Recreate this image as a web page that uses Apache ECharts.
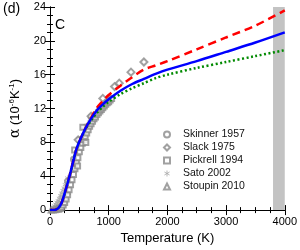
<!DOCTYPE html>
<html><head><meta charset="utf-8">
<script src="https://cdn.jsdelivr.net/npm/echarts@6/dist/echarts.min.js"></script>
<style>html,body{margin:0;padding:0;background:#fff}#c{width:300px;height:250px}</style>
</head><body><div id="c"></div>
<script>
var modelT = [0,50,100,150,200,250,300,350,400,450,500,600,700,800,900,1000,1200,1400,1600,1800,2000,2500,3000,3500,4000];
var blueVals = [0,0,0.05,0.3,0.9,2.0,3.2,4.5,5.9,7.2,8.1,9.6,10.8,11.8,12.5,13.1,14.1,14.9,15.5,16.1,16.6,17.6,18.7,19.8,21.0];
var redVals = [0,0,0.05,0.3,0.9,2.0,3.2,4.5,5.9,7.2,8.1,9.6,10.9,12.1,12.9,13.6,14.7,15.7,16.6,17.1,17.6,19.0,20.4,21.8,23.6];
var greenVals = [0,0,0.05,0.3,0.9,2.0,3.2,4.5,5.9,7.2,8.1,9.5,10.6,11.5,12.2,12.8,13.7,14.4,15.0,15.6,16.0,16.8,17.5,18.2,18.9];

var skinner = [[300,3.4],[400,6.0],[500,8.3],[600,9.8],[700,11.0]];
var slack = [[480,8.3],[700,11.1],[900,13.2],[1100,14.6],[1180,15.0],[1380,16.3],[1600,17.5]];
var pickrell = [[150,0.1],[175,0.2],[200,0.35],[225,0.6],[250,0.9],[275,1.3],[300,1.8],[325,2.4],[350,3.0],[375,3.6],[400,4.2],[425,4.9],[450,5.6],[475,6.2],[500,6.9],[525,7.4],[550,7.9],[575,8.3],[600,8.7],[625,9.1],[650,9.5],[675,9.9],[700,10.2],[725,10.5],[750,10.8],[775,11.0],[800,11.3],[825,11.5],[850,11.7],[875,11.9],[900,12.1],[925,12.3],[950,12.5],[975,12.7],[1000,12.8],[1025,13.0],[1050,13.2],[420,7.1],[470,5.2],[560,9.8],[610,8.0]];
var sato = [[40,0.1],[60,0.3],[80,0.5],[100,0.7],[120,0.9],[140,1.1],[160,1.4],[180,1.7],[200,2.0],[220,2.3],[240,2.6],[260,3.0],[280,3.4],[300,3.8],[90,0.3],[130,0.6],[170,1.0],[210,1.5]];
var stoupin = [[20,0],[50,0],[80,0.05],[110,0.1],[140,0.2],[170,0.4],[200,0.7],[230,1.1],[260,1.6],[290,2.2]];

var xTicks = [0,1000,2000,3000,4000];
var yTicks = [0,4,8,12,16,20,24];

function pairs(xs, ys){ return xs.map(function(x,i){return [x, ys[i]];}); }

var FONT = 'Liberation Sans';
var gray = '#8a8a8a';
var asterisk = 'path://M5,0L5,10M0.7,2.5L9.3,7.5M9.3,2.5L0.7,7.5';

var axisCommon = {
  axisLine:{show:true,lineStyle:{color:'#000',width:1}},
  axisTick:{show:true,inside:true,length:5,lineStyle:{color:'#000',width:1}},
  minorTick:{show:true,splitNumber:4,length:3,lineStyle:{color:'#000',width:1}},
  splitLine:{show:false}
};

var chart = echarts.init(document.getElementById('c'), null, {renderer:'canvas'});
chart.setOption({
  animation:false,
  textStyle:{fontFamily:FONT},
  grid:{left:48,right:15,top:7,bottom:38,containLabel:false},
  xAxis:[
    Object.assign({type:'value',min:0,max:4000,interval:1000,position:'bottom',
      name:'Temperature (K)',nameLocation:'middle',nameGap:19,
      nameTextStyle:{fontSize:13,color:'#000',fontFamily:FONT},
      axisLabel:{fontSize:11,color:'#000',margin:6,fontFamily:FONT,
        formatter:function(v){return xTicks.indexOf(v)>=0?String(v):'';}}}, axisCommon),
    Object.assign({type:'value',min:0,max:4000,interval:1000,position:'top',axisLabel:{show:false}}, axisCommon)
  ],
  yAxis:[
    Object.assign({type:'value',min:0,max:24,interval:4,position:'left',
      name:'{a|α} (10{s|-6}K{s|-1})',nameLocation:'middle',nameGap:28,nameRotate:90,
      nameTextStyle:{fontSize:13,color:'#000',fontFamily:FONT,
        rich:{a:{fontSize:14,fontFamily:'DejaVu Serif',color:'#000'},s:{fontSize:8,verticalAlign:'top',lineHeight:10,color:'#000',fontFamily:FONT}}},
      axisLabel:{fontSize:11,color:'#000',margin:4,fontFamily:FONT,
        formatter:function(v){return yTicks.indexOf(v)>=0?String(v):'';}}}, axisCommon),
    Object.assign({type:'value',min:0,max:24,interval:4,position:'right',axisLabel:{show:false}}, axisCommon)
  ],
  legend:{
    orient:'vertical',left:158,top:124,itemWidth:6,itemHeight:6,itemGap:2,
    itemStyle:{borderWidth:1},
    textStyle:{fontSize:10.5,lineHeight:11,color:'#111',fontFamily:FONT,padding:[0,0,0,8]},
    data:['Skinner 1957','Slack 1975','Pickrell 1994','Sato 2002','Stoupin 2010']
  },
  graphic:[
    {type:'text',left:3,top:2,style:{text:'(d)',fontSize:14,fontFamily:FONT,fill:'#000'}},
    {type:'text',left:55,top:18,style:{text:'C',fontSize:14,fontFamily:FONT,fill:'#000'}}
  ],
  series:[
    {type:'line',name:'band',data:[],silent:true,z:1,
      markArea:{silent:true,itemStyle:{color:'#c3c3c3'},data:[[{xAxis:3800},{xAxis:4000}]]}},
    {type:'scatter',name:'Sato 2002',data:sato,symbol:asterisk,symbolSize:5,z:2,
      itemStyle:{color:'rgba(0,0,0,0)',borderColor:'#a8a8a8',borderWidth:1}},
    {type:'scatter',name:'Stoupin 2010',data:stoupin,symbol:'emptyTriangle',symbolSize:5,z:2,
      itemStyle:{color:gray,borderColor:gray,borderWidth:1}},
    {type:'scatter',name:'Skinner 1957',data:skinner,symbol:'emptyCircle',symbolSize:5,z:2,
      itemStyle:{color:gray,borderColor:gray,borderWidth:1}},
    {type:'scatter',name:'Pickrell 1994',data:pickrell,symbol:'emptyRect',symbolSize:5,z:2,
      itemStyle:{color:gray,borderColor:gray,borderWidth:1}},
    {type:'scatter',name:'Slack 1975',data:slack,symbol:'emptyDiamond',symbolSize:7,z:2,
      itemStyle:{color:gray,borderColor:gray,borderWidth:1}},
    {type:'line',name:'green',data:pairs(modelT,greenVals),smooth:0.3,showSymbol:false,z:3,
      lineStyle:{color:'#008a00',width:2.5,type:[2,2.5]}},
    {type:'line',name:'red',data:pairs(modelT,redVals),smooth:0.3,showSymbol:false,z:3,
      lineStyle:{color:'#ff0000',width:2.5,type:[8,5]}},
    {type:'line',name:'blue',data:pairs(modelT,blueVals),smooth:0.3,showSymbol:false,z:4,
      lineStyle:{color:'#0000ff',width:2.5}}
  ]
});
</script></body></html>
